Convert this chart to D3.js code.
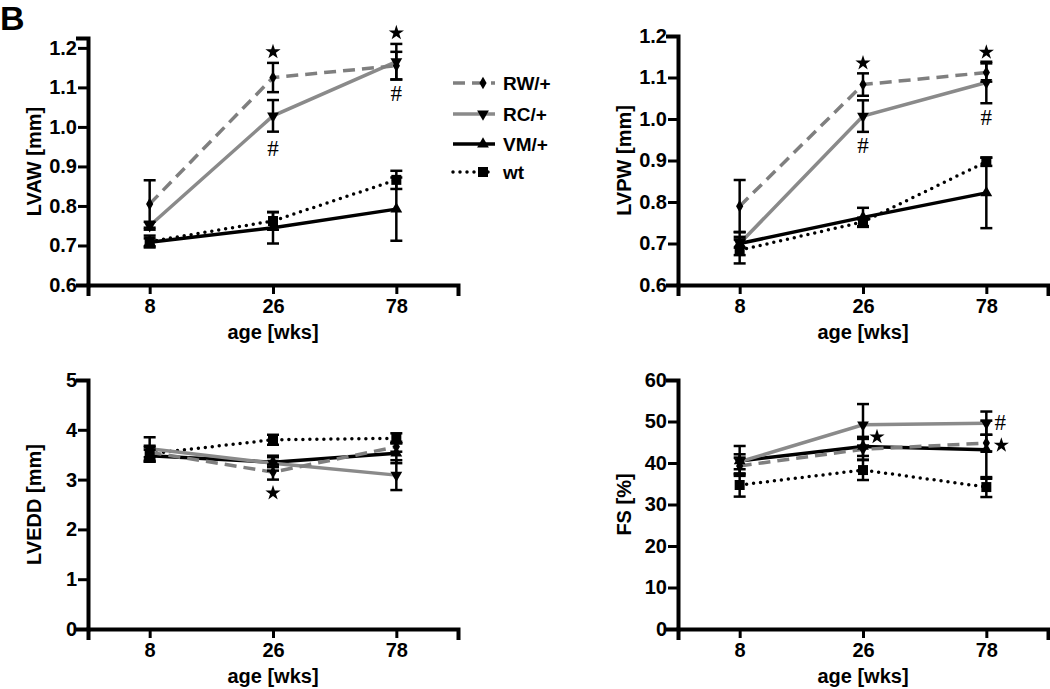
<!DOCTYPE html>
<html>
<head>
<meta charset="utf-8">
<script src="https://cdn.jsdelivr.net/npm/d3@7"></script>
<style>
  body { margin: 0; background: #fff; }
  svg text { font-family: "Liberation Sans", Arial, sans-serif; font-weight: bold; fill: #000; }
</style>
</head>
<body>
<div class="canvas"></div>
<script>
// categories
const ages = ["8", "26", "78"];
const groups = ["RW/+", "RC/+", "VM/+", "wt"];

// LVAW [mm], rows follow groups
const lvawMeans = [[0.805, 1.125, 1.155], [0.75, 1.028, 1.165], [0.708, 0.745, 0.792], [0.71, 0.762, 0.866]];
const lvawErrs = [[0.06, 0.037, 0.035], [0.01, 0.04, 0.045], [0.01, 0.04, 0.08], [0.015, 0.022, 0.023]];
const lvawTicks = [0.6, 0.7, 0.8, 0.9, 1.0, 1.1, 1.2];

// LVPW [mm]
const lvpwMeans = [[0.79, 1.083, 1.112], [0.7, 1.007, 1.088], [0.7, 0.763, 0.822], [0.684, 0.752, 0.897]];
const lvpwErrs = [[0.063, 0.027, 0.022], [0.01, 0.038, 0.05], [0.028, 0.023, 0.085], [0.032, 0.01, 0.01]];
const lvpwTicks = [0.6, 0.7, 0.8, 0.9, 1.0, 1.1, 1.2];

// LVEDD [mm]
const lveddMeans = [[3.55, 3.15, 3.66], [3.62, 3.33, 3.09], [3.48, 3.35, 3.53], [3.52, 3.8, 3.83]];
const lveddErrs = [[0.1, 0.15, 0.1], [0.23, 0.15, 0.3], [0.12, 0.1, 0.2], [0.16, 0.1, 0.1]];
const lveddTicks = [0, 1, 2, 3, 4, 5];

// FS [%]
const fsMeans = [[39.3, 43.3, 44.8], [40.3, 49.2, 49.6], [40.5, 44.0, 43.2], [34.7, 38.3, 34.2]];
const fsErrs = [[2.0, 2.5, 2.0], [1.8, 5.0, 2.8], [3.6, 2.3, 7.0], [2.8, 2.4, 2.4]];
const fsTicks = [0, 10, 20, 30, 40, 50, 60];

// significance marks: panel index, age, value in data units, symbol, x shift
const sigPanel = [0, 0, 0, 0, 1, 1, 1, 1, 2, 3, 3, 3];
const sigAge = ["26", "26", "78", "78", "26", "26", "78", "78", "26", "26", "78", "78"];
const sigValue = [1.19, 0.947, 1.238, 1.086, 1.135, 0.937, 1.161, 1.005, 2.73, 46.3, 49.9, 44.3];
const sigSymbol = ["star", "#", "star", "#", "star", "#", "star", "#", "star", "star", "#", "star"];
const sigShift = [0, 0, 0, 0, 0, 0, 0, 0, 0, 14, 14, 15];

// svg
const svg = d3.select(".canvas").append("svg").attr("width", 1050).attr("height", 689);

// panel letter
svg.append("text").attr("x", 0).attr("y", 30).style("font-size", "34px").text("B");

// series styles
const styles = {
  "RW/+": { color: "#7f7f7f", dash: "12,7", cap: "butt", symbol: d3.symbolDiamond, size: 45, rot: 0 },
  "RC/+": { color: "#8a8a8a", dash: null, cap: "butt", symbol: d3.symbolTriangle, size: 60, rot: 180 },
  "VM/+": { color: "#000", dash: null, cap: "butt", symbol: d3.symbolTriangle, size: 60, rot: 0 },
  wt: { color: "#000", dash: "0,7", cap: "round", symbol: d3.symbolSquare, size: 100, rot: 0 },
};

// panel layout
const panels = [
  { title: "LVAW [mm]", means: lvawMeans, errs: lvawErrs, ticks: lvawTicks, domain: [0.6, 1.225], fmt: ".1f", left: 88, top: 38, bottom: 285 },
  { title: "LVPW [mm]", means: lvpwMeans, errs: lvpwErrs, ticks: lvpwTicks, domain: [0.6, 1.2], fmt: ".1f", left: 678, top: 36, bottom: 285 },
  { title: "LVEDD [mm]", means: lveddMeans, errs: lveddErrs, ticks: lveddTicks, domain: [0, 5], fmt: "d", left: 88, top: 380, bottom: 629 },
  { title: "FS [%]", means: fsMeans, errs: fsErrs, ticks: fsTicks, domain: [0, 60], fmt: "d", left: 678, top: 380, bottom: 629 },
];

const drawPanel = (p, pi) => {
  const x = d3.scalePoint().domain(ages).range([p.left, p.left + 370]).padding(0.5);
  const y = d3.scaleLinear().domain(p.domain).range([p.bottom, p.top]);
  p.x = x;
  p.y = y;
  const g = svg.append("g");

  // axes
  const yAxis = g.append("g")
    .attr("transform", `translate(${p.left},0)`)
    .call(d3.axisLeft(y).tickValues(p.ticks).tickFormat(d3.format(p.fmt)).tickSizeOuter(0).tickSize(10).tickPadding(1));
  const xAxis = g.append("g")
    .attr("transform", `translate(0,${p.bottom})`)
    .call(d3.axisBottom(x).tickSizeOuter(0).tickSize(9).tickPadding(5));
  [xAxis, yAxis].forEach((a) => {
    a.attr("font-family", null).attr("font-size", null);
    a.select(".domain").attr("stroke-width", 4).attr("stroke-linecap", "square");
    a.selectAll(".tick line").attr("stroke-width", 3);
    a.selectAll(".tick text").style("font-size", "20px");
  });

  // axis titles
  g.append("text")
    .attr("transform", `translate(${p.left - 54},${(p.top + p.bottom) / 2}) rotate(-90)`)
    .attr("text-anchor", "middle").attr("dy", "0.35em")
    .style("font-size", "20px").text(p.title);
  g.append("text")
    .attr("x", p.left + 185).attr("y", p.bottom + 54)
    .attr("text-anchor", "middle")
    .style("font-size", "20px").text("age [wks]");

  const line = d3.line().x((d) => x(d.age)).y((d) => y(d.v));
  const series = groups.map((name, gi) => ({
    name,
    pts: ages.map((age, ai) => ({ age, v: p.means[gi][ai], e: p.errs[gi][ai] })),
  }));
  const order = [3, 2, 1, 0];

  // lines
  order.forEach((gi) => {
    const s = series[gi];
    const st = styles[s.name];
    g.append("path").attr("d", line(s.pts))
      .attr("fill", "none").attr("stroke", st.color).attr("stroke-width", 3.5)
      .attr("stroke-dasharray", st.dash).attr("stroke-linecap", st.cap);
  });

  // error bars
  order.forEach((gi) => {
    series[gi].pts.forEach((d) => {
      const cx = x(d.age);
      const eb = g.append("g").attr("stroke", "#000").attr("stroke-width", 2.5);
      eb.append("line").attr("x1", cx).attr("x2", cx).attr("y1", y(d.v - d.e)).attr("y2", y(d.v + d.e));
      [d.v - d.e, d.v + d.e].forEach((v) => {
        eb.append("line").attr("x1", cx - 6).attr("x2", cx + 6).attr("y1", y(v)).attr("y2", y(v));
      });
    });
  });

  // markers
  order.forEach((gi) => {
    const s = series[gi];
    const st = styles[s.name];
    g.selectAll(null).data(s.pts).enter().append("path")
      .attr("d", d3.symbol().type(st.symbol).size(st.size))
      .attr("transform", (d) => `translate(${x(d.age)},${y(d.v)}) rotate(${st.rot})`)
      .attr("fill", "#000");
  });
};

panels.forEach(drawPanel);

// significance marks
sigPanel.forEach((pi, i) => {
  const p = panels[pi];
  const cx = p.x(sigAge[i]) + sigShift[i];
  const cy = p.y(sigValue[i]);
  if (sigSymbol[i] === "star") {
    svg.append("path").attr("d", d3.symbol().type(d3.symbolStar).size(72))
      .attr("transform", `translate(${cx},${cy})`).attr("fill", "#000");
  } else {
    svg.append("text").attr("x", cx).attr("y", cy).attr("dy", "0.36em")
      .attr("text-anchor", "middle")
      .style("font-family", "'Liberation Serif', 'Times New Roman', serif")
      .style("font-weight", "normal").style("font-size", "23px")
      .text("#");
  }
});

// legend
const legend = svg.append("g").attr("transform", "translate(453,0)");
const legendY = [83, 114, 144, 172];
groups.forEach((name, i) => {
  const st = styles[name];
  const row = legend.append("g").attr("transform", `translate(0,${legendY[i]})`);
  row.append("line").attr("x1", 0).attr("x2", 42).attr("y1", 0).attr("y2", 0)
    .attr("stroke", st.color).attr("stroke-width", 3.5)
    .attr("stroke-dasharray", st.dash).attr("stroke-linecap", st.cap);
  row.append("path").attr("d", d3.symbol().type(st.symbol).size(st.size))
    .attr("transform", `translate(30,0) rotate(${st.rot})`).attr("fill", "#000");
  row.append("text").attr("x", 50).attr("dy", "0.36em").style("font-size", "19px").text(name);
});
</script>
</body>
</html>
